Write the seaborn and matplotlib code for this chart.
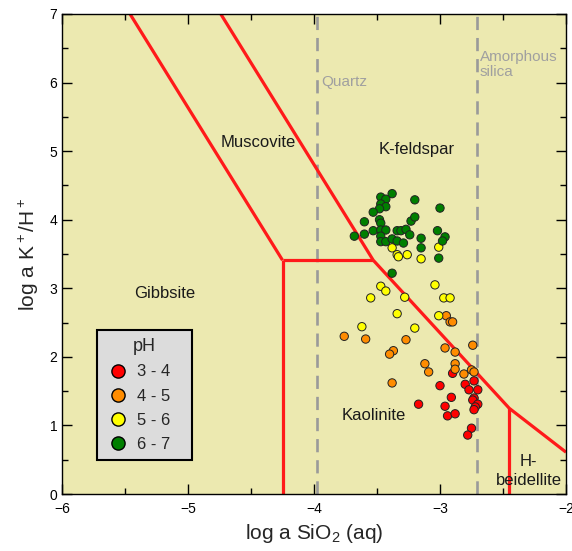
import numpy as np
import pandas as pd
import matplotlib
matplotlib.use("Agg")
import matplotlib.pyplot as plt
from matplotlib.ticker import MultipleLocator
import seaborn as sns

# ---- data ----
green_x = [-3.38, -3.47, -3.43, -3.47, -3.43, -3.48, -3.53, -3.20, -3.00, -3.60,
           -3.48, -3.47, -3.23, -3.20, -3.53, -3.47, -3.43, -3.34, -3.31, -3.27,
           -3.60, -3.68, -3.47, -3.02, -2.96, -2.98, -3.24, -3.15, -3.47, -3.43,
           -3.38, -3.34, -3.29, -3.15, -3.01, -3.38]
green_y = [4.38, 4.33, 4.30, 4.23, 4.19, 4.16, 4.11, 4.29, 4.17, 3.97,
           4.00, 3.95, 3.98, 4.04, 3.84, 3.85, 3.85, 3.84, 3.84, 3.86,
           3.79, 3.76, 3.76, 3.84, 3.75, 3.69, 3.78, 3.73, 3.68, 3.68,
           3.72, 3.69, 3.66, 3.59, 3.44, 3.22]

yellow_x = [-3.38, -3.34, -3.33, -3.26, -3.15, -3.01, -3.47, -3.43, -3.55, -3.28,
            -3.04, -2.97, -2.92, -3.34, -3.01, -3.62, -3.20]
yellow_y = [3.59, 3.49, 3.46, 3.49, 3.43, 3.60, 3.03, 2.96, 2.86, 2.87,
            3.05, 2.86, 2.86, 2.63, 2.60, 2.44, 2.42]

orange_x = [-2.95, -2.92, -2.90, -3.76, -3.59, -3.27, -2.74, -2.96, -2.88, -3.37,
            -3.40, -3.12, -3.09, -2.88, -2.88, -2.81, -2.75, -2.73, -3.38]
orange_y = [2.60, 2.51, 2.51, 2.30, 2.26, 2.25, 2.17, 2.13, 2.07, 2.09,
            2.04, 1.90, 1.78, 1.90, 1.82, 1.75, 1.81, 1.78, 1.62]

red_x = [-2.90, -2.73, -2.80, -3.00, -2.77, -2.70, -2.91, -2.73, -2.74, -2.70,
         -2.72, -2.73, -3.17, -2.96, -2.94, -2.88, -2.75, -2.78]
red_y = [1.76, 1.65, 1.60, 1.58, 1.52, 1.52, 1.41, 1.40, 1.37, 1.31,
         1.27, 1.23, 1.31, 1.28, 1.14, 1.17, 0.96, 0.86]

ph_classes = ["3 - 4", "4 - 5", "5 - 6", "6 - 7"]
ph_colors = ["#ff0000", "#ff8c00", "#ffff00", "#007f00"]

# stability field boundaries (log aSiO2, log aK+/H+)
gibbsite_musc_x = [-5.46, -4.25]
gibbsite_musc_y = [7.0, 3.41]
musc_kfs_x = [-4.74, -3.53]
musc_kfs_y = [7.0, 3.41]
gibbsite_kaol_x = [-4.25, -4.25]
gibbsite_kaol_y = [3.41, 0.0]
musc_kaol_x = [-4.25, -3.53]
musc_kaol_y = [3.41, 3.41]
kfs_kaol_x = [-3.53, -2.45, -2.0]
kfs_kaol_y = [3.41, 1.25, 0.61]
kaol_beid_x = [-2.45, -2.45]
kaol_beid_y = [1.25, 0.0]

quartz_sat = -3.98
amorph_sat = -2.71

# ---- build table ----
df = pd.concat([
    pd.DataFrame({"sio2": red_x, "kh": red_y, "pH": ph_classes[0]}),
    pd.DataFrame({"sio2": orange_x, "kh": orange_y, "pH": ph_classes[1]}),
    pd.DataFrame({"sio2": yellow_x, "kh": yellow_y, "pH": ph_classes[2]}),
    pd.DataFrame({"sio2": green_x, "kh": green_y, "pH": ph_classes[3]}),
], ignore_index=True)

sns.set_theme(style="ticks")
plt.rcParams["font.family"] = ["Liberation Sans", "DejaVu Sans"]
plt.rcParams["mathtext.fontset"] = "custom"
plt.rcParams["mathtext.rm"] = "Liberation Sans"
plt.rcParams["mathtext.default"] = "regular"

fig = plt.figure(figsize=(5.72, 5.51), dpi=100)
ax = fig.add_axes([0.1084, 0.1034, 0.8811, 0.8712])
ax.set_facecolor("#ece9b0")

# boundaries
red_kw = dict(color="#ff1a1a", lw=2.3, solid_capstyle="butt", zorder=2)
for bx, by in [(gibbsite_musc_x, gibbsite_musc_y), (musc_kfs_x, musc_kfs_y),
               (gibbsite_kaol_x, gibbsite_kaol_y), (musc_kaol_x, musc_kaol_y),
               (kfs_kaol_x, kfs_kaol_y), (kaol_beid_x, kaol_beid_y)]:
    ax.plot(bx, by, **red_kw)

for sx in [quartz_sat, amorph_sat]:
    ax.axvline(sx, color="#9a9a9a", lw=1.9, dashes=(5, 3), zorder=1)

sns.scatterplot(data=df, x="sio2", y="kh", hue="pH", hue_order=ph_classes,
                palette=ph_colors, s=36, edgecolor="#222222", linewidth=0.7,
                ax=ax, zorder=3)

# labels of fields
lab_kw = dict(fontsize=12, color="#1a1a1a", va="center", ha="left")
ax.text(-4.74, 5.13, "Muscovite", **lab_kw)
ax.text(-3.49, 5.02, "K-feldspar", **lab_kw)
ax.text(-5.43, 2.93, "Gibbsite", **lab_kw)
ax.text(-3.78, 1.15, "Kaolinite", **lab_kw)
ax.text(-2.295, 0.34, "H-\nbeidellite", linespacing=1.3, fontsize=12,
        color="#1a1a1a", va="center", ha="center", multialignment="center",
        zorder=4)
ax.text(-3.94, 6.01, "Quartz", fontsize=11, color="#a0a0a0", va="center")
ax.text(-2.685, 6.26, "Amorphous\nsilica", fontsize=11, color="#a0a0a0",
        va="center", linespacing=1.1)

ax.set_xlim(-6, -2)
ax.set_ylim(0, 7)
ax.set_xticks([-6, -5, -4, -3, -2])
ax.set_yticks(range(0, 8))
ax.xaxis.set_minor_locator(MultipleLocator(0.5))
ax.yaxis.set_minor_locator(MultipleLocator(0.5))
ax.tick_params(which="major", direction="in", length=7, width=1, labelsize=10,
               top=True, right=True, colors="black")
ax.tick_params(which="minor", direction="in", length=4, width=1,
               top=True, right=True, colors="black")
ax.tick_params(axis="x", which="major", pad=6)
for sp in ax.spines.values():
    sp.set_color("black")
    sp.set_linewidth(1)

ax.set_xlabel("log a SiO$_2$ (aq)", fontsize=15, labelpad=4)
ax.set_ylabel("log a K$^+$/H$^+$", fontsize=15, labelpad=6)

handles, labels = ax.get_legend_handles_labels()
for h in handles:
    h.set_markersize(9.5)
    h.set_markeredgecolor("black")
    h.set_markeredgewidth(1)
labels = [lab + "   " for lab in labels]
leg = ax.legend(handles, labels, title="pH", loc="upper left",
                bbox_to_anchor=(0.069, 0.342), fontsize=12, title_fontsize=13,
                frameon=True, fancybox=False, edgecolor="black",
                facecolor="#dcdcdc", framealpha=1, labelspacing=0.55,
                handletextpad=0.4, borderpad=0.5, handlelength=1.5,
                borderaxespad=0)
leg.get_frame().set_linewidth(1.5)

fig.savefig("out.png", dpi=100)
